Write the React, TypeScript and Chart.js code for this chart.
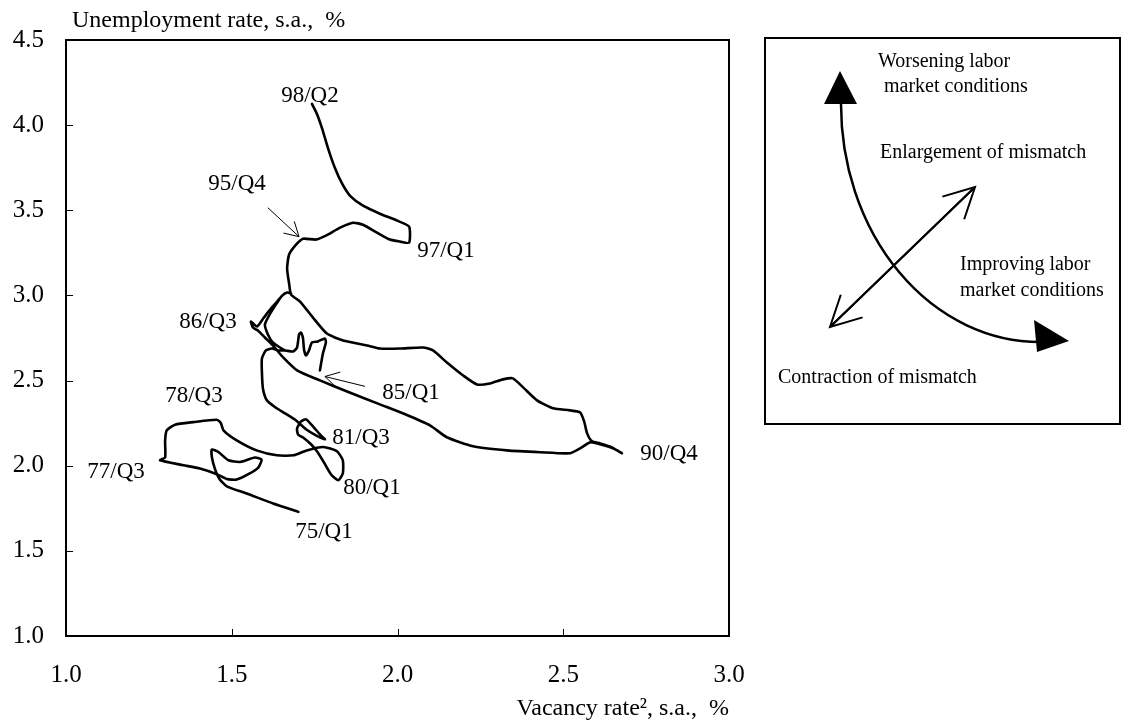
import React, { useEffect, useRef } from 'react';
import { Chart, registerables } from 'chart.js';
Chart.register(...registerables);

// Path of the curve, in time order (vacancy rate on x, unemployment rate on y)
const vacancy = [
  1.701, 1.625, 1.545, 1.485, 1.462, 1.449, 1.440, 1.440, 1.459, 1.490, 1.525, 1.570, 1.590, 1.580, 1.550, 1.515, 1.485, 1.455, 1.404, 1.354,
  1.284, 1.299, 1.299, 1.304, 1.329, 1.384, 1.455, 1.467, 1.475, 1.515, 1.575, 1.636, 1.686, 1.726, 1.776, 1.817, 1.835, 1.835, 1.821,
  1.799, 1.778, 1.757, 1.739, 1.718, 1.700, 1.697, 1.709, 1.724, 1.745, 1.766, 1.781, 1.754, 1.724, 1.694, 1.661, 1.631, 1.606, 1.594, 1.591,
  1.591, 1.603, 1.621, 1.640,
  1.661, 1.685, 1.697, 1.703, 1.709, 1.715, 1.718, 1.724, 1.733, 1.742, 1.760, 1.781, 1.784, 1.775, 1.766,
  1.775, 1.784, 1.781, 1.760, 1.742, 1.733, 1.724, 1.718, 1.715, 1.709, 1.703, 1.697, 1.685, 1.661,
  1.624, 1.609, 1.600, 1.618, 1.637, 1.652, 1.667, 1.679, 1.667, 1.652, 1.637, 1.618, 1.597, 1.576, 1.558, 1.564, 1.579,
  1.600, 1.624, 1.655, 1.697, 1.766, 1.848, 1.947, 2.023, 2.098, 2.149, 2.228, 2.330, 2.430, 2.520, 2.551, 2.581, 2.611, 2.650, 2.677,
  2.647, 2.611, 2.587, 2.572, 2.563, 2.551, 2.520, 2.469, 2.421, 2.379, 2.348, 2.318, 2.279, 2.240, 2.198, 2.149, 2.107, 2.077, 2.008, 1.947,
  1.908, 1.836, 1.787, 1.745, 1.706, 1.679,
  1.673, 1.667, 1.673, 1.694, 1.715, 1.754, 1.784, 1.827, 1.866, 1.896, 1.938, 1.977, 2.008, 2.035,
  2.035, 1.999, 1.947, 1.896, 1.857, 1.833, 1.811, 1.790, 1.772, 1.757, 1.742,
];
const unemployment = [
  1.729, 1.778, 1.837, 1.879, 1.925, 1.983, 2.051, 2.095, 2.081, 2.032, 2.022, 2.048, 2.036, 1.989, 1.950, 1.919, 1.922, 1.950, 1.983, 2.003,
  2.032, 2.048, 2.149, 2.208, 2.241, 2.256, 2.270, 2.251, 2.208, 2.149, 2.090, 2.061, 2.061, 2.090, 2.110, 2.086, 2.032, 1.954, 1.915,
  1.950, 2.020, 2.085, 2.126, 2.161, 2.184, 2.219, 2.260, 2.272, 2.231, 2.184, 2.155, 2.178, 2.214, 2.266, 2.307, 2.343, 2.384, 2.454, 2.548,
  2.630, 2.677, 2.688, 2.677,
  2.677, 2.671, 2.694, 2.771, 2.782, 2.747, 2.683, 2.647, 2.677, 2.724, 2.730, 2.747, 2.724, 2.659, 2.560,
  2.659, 2.724, 2.747, 2.730, 2.724, 2.677, 2.647, 2.683, 2.747, 2.782, 2.771, 2.694, 2.671, 2.677,
  2.724, 2.771, 2.829, 2.900, 2.958, 2.999, 3.017, 3.011, 3.017, 2.999, 2.964, 2.923, 2.870, 2.817, 2.847, 2.812, 2.794,
  2.753, 2.706, 2.636, 2.560, 2.501, 2.436, 2.360, 2.302, 2.237, 2.167, 2.114, 2.090, 2.079, 2.073, 2.102, 2.137, 2.126, 2.102, 2.073,
  2.108, 2.131, 2.143, 2.190, 2.260, 2.313, 2.325, 2.337, 2.384, 2.460, 2.513, 2.507, 2.483, 2.477, 2.530, 2.606, 2.677, 2.694, 2.688, 2.688,
  2.706, 2.735, 2.776, 2.870, 2.964, 3.005,
  3.070, 3.158, 3.240, 3.298, 3.333, 3.328, 3.351, 3.398, 3.427, 3.415, 3.369, 3.328, 3.316, 3.310,
  3.404, 3.439, 3.480, 3.527, 3.585, 3.656, 3.750, 3.867, 3.984, 4.066, 4.125,
];

// Period labels and where they sit (data units)
const periodLabels = ['98/Q2', '95/Q4', '97/Q1', '86/Q3', '85/Q1', '78/Q3', '77/Q3', '81/Q3', '80/Q1', '75/Q1', '90/Q4'];
const periodLabelX = [1.736, 1.516, 2.146, 1.428, 2.041, 1.386, 1.151, 1.890, 1.923, 1.778, 2.819];
const periodLabelY = [4.172, 3.656, 3.263, 2.847, 2.425, 2.407, 1.961, 2.161, 1.868, 1.610, 2.067];

// Pointer arrows: [fromX, fromY, toX, toY]
const pointerArrow95Q4 = [1.609, 3.515, 1.703, 3.345];
const pointerArrow85Q1 = [1.902, 2.466, 1.781, 2.524];

const xTicks = [1.0, 1.5, 2.0, 2.5, 3.0];
const yTicks = [1.0, 1.5, 2.0, 2.5, 3.0, 3.5, 4.0, 4.5];

const yTitle = 'Unemployment rate, s.a.,  %';
const xTitle = 'Vacancy rate\u00B2, s.a.,  %';

const panelTexts = [
  'Worsening labor',
  ' market conditions',
  'Enlargement of mismatch',
  'Improving labor',
  'market conditions',
  'Contraction of mismatch',
];

const SERIF = '"Liberation Serif", "Times New Roman", serif';

function drawOpenArrow(ctx: CanvasRenderingContext2D, x1: number, y1: number, x2: number, y2: number, head: number, ang: number) {
  const a = Math.atan2(y2 - y1, x2 - x1);
  ctx.beginPath();
  ctx.moveTo(x1, y1);
  ctx.lineTo(x2, y2);
  ctx.moveTo(x2 - head * Math.cos(a - ang), y2 - head * Math.sin(a - ang));
  ctx.lineTo(x2, y2);
  ctx.lineTo(x2 - head * Math.cos(a + ang), y2 - head * Math.sin(a + ang));
  ctx.stroke();
}

const overlayPlugin = {
  id: 'overlay',
  afterDraw(chart: any) {
    const { ctx, chartArea: a, scales } = chart;
    const xs = scales.x;
    const ys = scales.y;
    ctx.save();
    ctx.strokeStyle = '#000';
    ctx.fillStyle = '#000';

    // frame
    ctx.lineWidth = 2;
    ctx.strokeRect(a.left, a.top, a.right - a.left, a.bottom - a.top);

    // inner tick marks
    ctx.lineWidth = 1;
    ctx.beginPath();
    xTicks.slice(1, -1).forEach((v) => {
      const px = Math.round(xs.getPixelForValue(v)) + 0.5;
      ctx.moveTo(px, a.bottom);
      ctx.lineTo(px, a.bottom - 7);
    });
    yTicks.slice(1, -1).forEach((v) => {
      const py = Math.round(ys.getPixelForValue(v)) + 0.5;
      ctx.moveTo(a.left, py);
      ctx.lineTo(a.left + 7, py);
    });
    ctx.stroke();

    // y title
    ctx.font = `24px ${SERIF}`;
    ctx.textAlign = 'left';
    ctx.textBaseline = 'alphabetic';
    ctx.fillText(yTitle, 72, 27);

    // period labels
    ctx.font = `23px ${SERIF}`;
    ctx.textAlign = 'center';
    ctx.textBaseline = 'middle';
    periodLabels.forEach((t, i) => {
      ctx.fillText(t, xs.getPixelForValue(periodLabelX[i]), ys.getPixelForValue(periodLabelY[i]));
    });

    // pointer arrows
    ctx.lineWidth = 1;
    [pointerArrow95Q4, pointerArrow85Q1].forEach((ar) => {
      drawOpenArrow(ctx, xs.getPixelForValue(ar[0]), ys.getPixelForValue(ar[1]), xs.getPixelForValue(ar[2]), ys.getPixelForValue(ar[3]), 16, 0.52);
    });

    // right-hand explanatory panel
    ctx.lineWidth = 2;
    ctx.strokeRect(765, 38, 355, 386);

    ctx.lineWidth = 2.5;
    ctx.beginPath();
    ctx.ellipse(1040, 104, 199, 238, 0, Math.PI, Math.PI / 2, true);
    ctx.stroke();
    // filled triangles
    ctx.beginPath();
    ctx.moveTo(840, 71);
    ctx.lineTo(824, 104);
    ctx.lineTo(857, 104);
    ctx.closePath();
    ctx.fill();
    ctx.beginPath();
    ctx.moveTo(1069, 341);
    ctx.lineTo(1034, 320);
    ctx.lineTo(1037, 352);
    ctx.closePath();
    ctx.fill();

    // double-headed diagonal arrow
    ctx.lineWidth = 2;
    drawOpenArrow(ctx, 830, 327, 975, 187, 34, 0.48);
    drawOpenArrow(ctx, 975, 187, 830, 327, 34, 0.48);

    ctx.font = `20px ${SERIF}`;
    ctx.textAlign = 'left';
    ctx.textBaseline = 'middle';
    ctx.fillText(panelTexts[0], 878, 62);
    ctx.fillText(panelTexts[1], 879, 87);
    ctx.fillText(panelTexts[2], 880, 153);
    ctx.fillText(panelTexts[3], 960, 265);
    ctx.fillText(panelTexts[4], 960, 291);
    ctx.fillText(panelTexts[5], 778, 378);

    ctx.restore();
  },
};

export default function App() {
  const canvasRef = useRef<HTMLCanvasElement | null>(null);

  useEffect(() => {
    document.body.style.margin = '0';
    const canvas = canvasRef.current;
    if (!canvas) return;
    const points = vacancy.map((v, i) => ({ x: v, y: unemployment[i] }));
    const tickFont = { family: SERIF, size: 25 };
    const chart = new Chart(canvas, {
      type: 'scatter',
      data: {
        datasets: [
          {
            data: points,
            showLine: true,
            borderColor: '#000',
            borderWidth: 2.6,
            pointRadius: 0,
            tension: 0.2,
            fill: false,
            borderJoinStyle: 'round',
            borderCapStyle: 'round',
          } as any,
        ],
      },
      options: {
        animation: false,
        responsive: false,
        maintainAspectRatio: false,
        events: [],
        layout: { padding: { top: 40, right: 393, left: 0, bottom: 0 } },
        plugins: { legend: { display: false }, tooltip: { enabled: false } },
        scales: {
          x: {
            type: 'linear',
            min: 1,
            max: 3,
            afterBuildTicks: (s: any) => {
              s.ticks = xTicks.map((v) => ({ value: v }));
            },
            afterFit: (s: any) => {
              s.height = 91;
            },
            grid: { display: false, drawTicks: false },
            border: { display: false },
            ticks: {
              color: '#000',
              font: tickFont,
              padding: 24,
              maxRotation: 0,
              autoSkip: false,
              callback: (v: any) => Number(v).toFixed(1),
            },
            title: {
              display: true,
              text: xTitle,
              align: 'end',
              color: '#000',
              font: { family: SERIF, size: 24 },
              padding: { top: 0, bottom: 4 },
            },
          },
          y: {
            type: 'linear',
            min: 1,
            max: 4.5,
            afterBuildTicks: (s: any) => {
              s.ticks = yTicks.map((v) => ({ value: v }));
            },
            afterFit: (s: any) => {
              s.width = 66;
            },
            grid: { display: false, drawTicks: false },
            border: { display: false },
            ticks: {
              color: '#000',
              font: tickFont,
              padding: 22,
              autoSkip: false,
              callback: (v: any) => Number(v).toFixed(1),
            },
          },
        },
      },
      plugins: [overlayPlugin],
    } as any);
    return () => chart.destroy();
  }, []);

  return (
    <div style={{ position: 'absolute', left: 0, top: 0, width: 1122, height: 727, background: '#fff' }}>
      <canvas ref={canvasRef} width={1122} height={727} style={{ display: 'block', width: 1122, height: 727 }} />
    </div>
  );
}
